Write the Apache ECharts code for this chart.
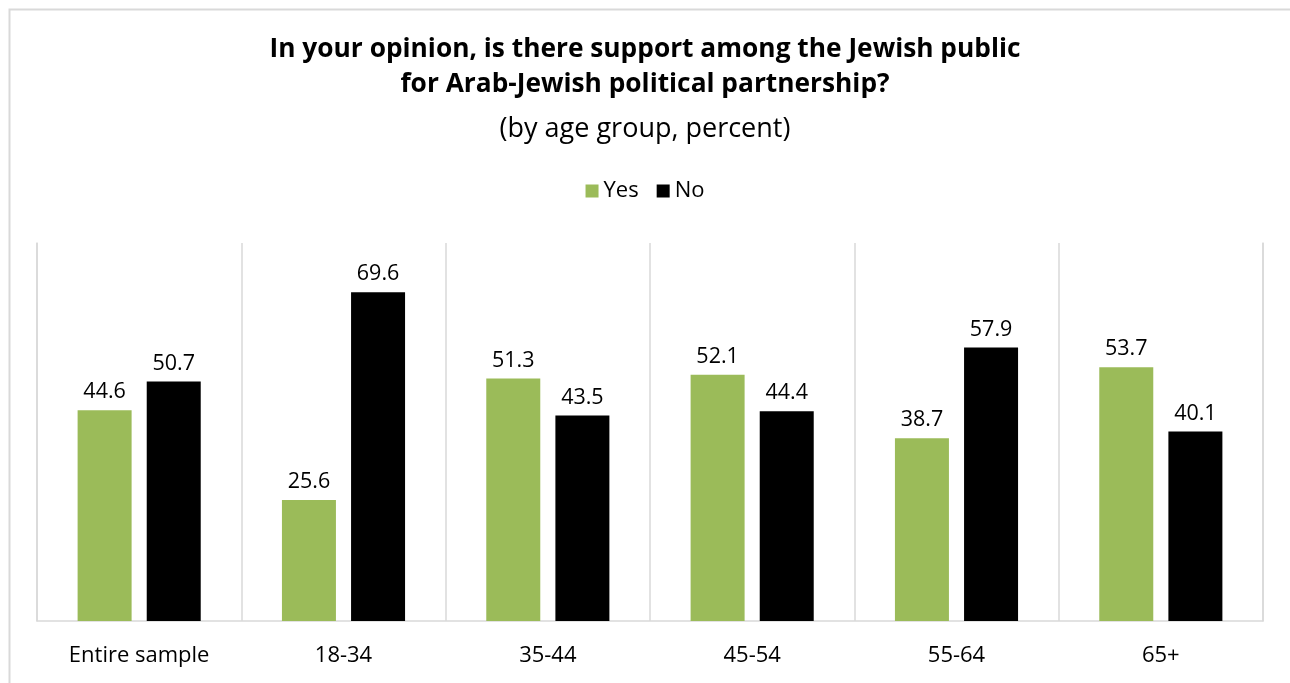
<!DOCTYPE html>
<html><head><meta charset="utf-8">
<script src="https://cdn.jsdelivr.net/npm/echarts@6/dist/echarts.min.js"></script>
<style>html,body{margin:0;padding:0;background:#fff}#c{width:1290px;height:683px}</style>
</head><body><div id="c"></div>
<script>
const categories = ['Entire sample', '18-34', '35-44', '45-54', '55-64', '65+'];
const yesValues = [44.6, 25.6, 51.3, 52.1, 38.7, 53.7];
const noValues = [50.7, 69.6, 43.5, 44.4, 57.9, 40.1];
const seriesNames = ['Yes', 'No'];
const titleLine1 = 'In your opinion, is there support among the Jewish public';
const titleLine2 = 'for Arab-Jewish political partnership?';
const subtitle = '(by age group, percent)';

const FONT = 'Open Sans';
const chart = echarts.init(document.getElementById('c'), null, {renderer: 'canvas'});
const labelStyle = {show: true, position: 'top', distance: 7, color: '#000', fontFamily: FONT, fontSize: 21.5, formatter: p => p.value.toFixed(1)};
chart.setOption({
  animation: false,
  backgroundColor: '#fff',
  graphic: [{type: 'rect', left: 7, top: 7, shape: {width: 1300, height: 700}, style: {fill: 'none', stroke: '#d9d9d9', lineWidth: 2}, silent: true}],
  title: [
    {text: titleLine1, left: 'center', top: 32, textStyle: {fontFamily: FONT, fontWeight: 'bold', fontSize: 26.3, color: '#000'}},
    {text: titleLine2, left: 'center', top: 67, textStyle: {fontFamily: FONT, fontWeight: 'bold', fontSize: 26.3, color: '#000'}},
    {text: subtitle, left: 'center', top: 111, textStyle: {fontFamily: FONT, fontWeight: 'normal', fontSize: 27, color: '#000'}}
  ],
  legend: {top: 175, left: 'center', itemWidth: 13, itemHeight: 13, itemGap: 18, icon: 'rect',
    textStyle: {fontFamily: FONT, fontSize: 22, color: '#000', padding: [0, 0, 0, 0]}, data: seriesNames},
  grid: {left: 37, right: 27, top: 243, bottom: 62, containLabel: false},
  xAxis: {type: 'category', data: categories, boundaryGap: true,
    axisLine: {show: true, lineStyle: {color: '#d9d9d9', width: 1.5}},
    axisTick: {show: false},
    splitLine: {show: true, lineStyle: {color: '#d9d9d9', width: 1.5}},
    axisLabel: {fontFamily: FONT, fontSize: 22, color: '#000', margin: 24, interval: 0}},
  yAxis: [
    {type: 'value', min: 0, max: 80, interval: 10, axisLabel: {show: false}, axisTick: {show: false}, splitLine: {show: false},
      axisLine: {show: true, lineStyle: {color: '#d9d9d9', width: 1.5}}},
    {type: 'value', position: 'right', min: 0, max: 80, interval: 10, axisLabel: {show: false}, axisTick: {show: false}, splitLine: {show: false},
      axisLine: {show: true, lineStyle: {color: '#d9d9d9', width: 1.5}}}
  ],
  series: [
    {name: seriesNames[0], type: 'bar', data: yesValues, barWidth: 54, barGap: '28%', itemStyle: {color: '#9BBB59'}, label: labelStyle},
    {name: seriesNames[1], type: 'bar', data: noValues, barWidth: 54, barGap: '28%', itemStyle: {color: '#000000'}, label: labelStyle}
  ]
});
</script></body></html>
